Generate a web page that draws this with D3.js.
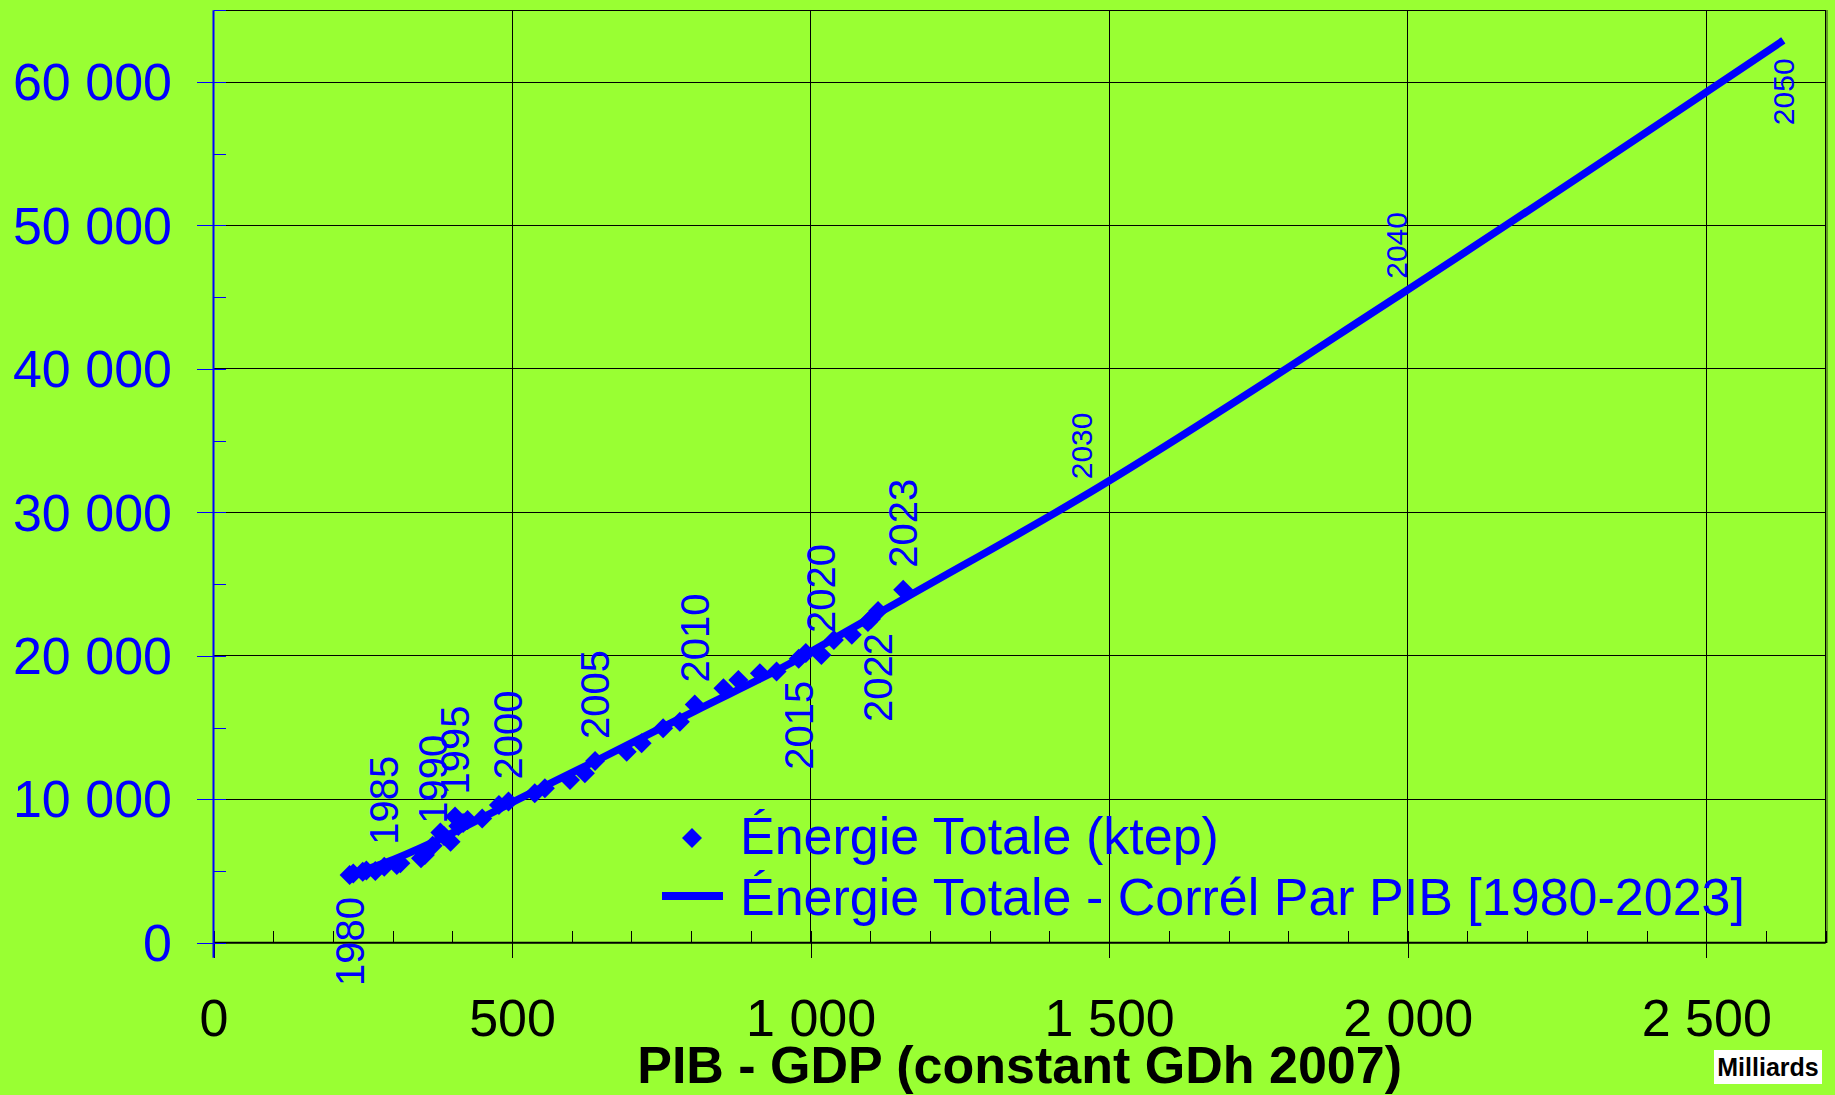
<!DOCTYPE html>
<html>
<head>
<meta charset="utf-8">
<script src="https://cdn.jsdelivr.net/npm/d3@7"></script>
<style>
  html, body { margin: 0; padding: 0; background: #99FF33; }
  svg { display: block; }
  text { font-family: "Liberation Sans", Arial, sans-serif; }
</style>
</head>
<body>
<svg id="chart" width="1835" height="1095"></svg>
<script>
// Observed series: GDP (billions of constant 2007 dirhams) and total energy (ktep)
const years = [1980,1981,1982,1983,1984,1985,1986,1987,1988,1989,
               1990,1991,1992,1993,1994,1995,1996,1997,1998,1999,
               2000,2001,2002,2003,2004,2005,2006,2007,2008,2009,
               2010,2011,2012,2013,2014,2015,2016,2017,2018,2019,
               2020,2021,2022,2023];
const gdp = [228,234,250,256,271,286,313,307,347.5,354,
             367,380,386,397,410,404.5,425.5,418,450,478,
             494,538,555,597,622,639,692,717,753,781,
             806,854,879,915,943,980,992,1039,1069,1096,
             1018,1101,1113,1155];
const energy = [4720,4830,4950,5040,4990,5300,5540,5420,5890,6120,
                6760,7690,7440,7040,8140,8790,8560,8350,8660,9600,
                9850,10420,10770,11350,11810,12670,13320,13900,14950,15410,
                16610,17740,18320,18790,18900,19790,20200,21110,21460,22360,
                20060,22570,23130,24600];

// Correlation curve energy = f(GDP), fitted on 1980-2023 and projected to 2050
const fitYears  = [1980,1985,1990,1995,2000,2005,2010,2015,2020,2023,2030,2040,2050];
const fitGdp    = [228,286,367,404.5,494,639,806,980,1018,1155,1454,1982,2629];
const fitEnergy = [4720,5550,7000,7750,9650,12650,16150,19800,20700,23950,31050,45030,62900];

// Years that carry a data label
const labelsAbove = [1985,1990,1995,2000,2005,2010,2020,2023];
const labelsBelow = [1980,2015,2022];
const fitLabelsAbove = [2030,2040];
const fitLabelsBelow = [2050];

// Axis ticks
const xTicks = [0,500,1000,1500,2000,2500];
const yTicks = [0,10000,20000,30000,40000,50000,60000];
const xMax = 2700, yMax = 65000;

const seriesNames = ["Énergie Totale (ktep)", "Énergie Totale - Corrél Par PIB [1980-2023]"];
const xTitle = "PIB - GDP (constant GDh 2007)";
const unitNote = "Milliards";

const BLUE = "#0000FF";
const svg = d3.select("#chart");

const x = d3.scaleLinear().domain([0, xMax]).range([213.5, 1825.7]);
const y = d3.scaleLinear().domain([0, yMax]).range([942.7, 10.3]);

const fr = d3.formatLocale({decimal: ",", thousands: " ", grouping: [3], currency: ["", " €"]});
const fmt = fr.format(",");

// Gridlines
const grid = svg.append("g").attr("shape-rendering", "crispEdges");
grid.selectAll("line.h").data(yTicks.filter(d => d > 0)).join("line")
  .attr("class", "h")
  .attr("x1", x(0)).attr("x2", x(xMax))
  .attr("y1", d => y(d)).attr("y2", d => y(d))
  .attr("stroke", "#000").attr("stroke-width", 1);
grid.selectAll("line.v").data(xTicks.filter(d => d > 0)).join("line")
  .attr("class", "v")
  .attr("x1", d => x(d)).attr("x2", d => x(d))
  .attr("y1", y(0)).attr("y2", y(yMax))
  .attr("stroke", "#000").attr("stroke-width", 1);
// Plot frame (top and right)
grid.append("line").attr("x1", x(0)).attr("x2", x(xMax)).attr("y1", y(yMax)).attr("y2", y(yMax))
  .attr("stroke", "#000").attr("stroke-width", 1);
grid.append("line").attr("x1", x(xMax)).attr("x2", x(xMax)).attr("y1", y(yMax)).attr("y2", y(0))
  .attr("stroke", "#000").attr("stroke-width", 1);
grid.append("line").attr("x1", x(xMax) + 1.5).attr("x2", x(xMax) + 1.5).attr("y1", y(yMax)).attr("y2", y(0))
  .attr("stroke", "#5f9e22").attr("stroke-width", 2);

// X axis: minor ticks inside every 100, major ticks crossing
const minorX = d3.range(0, xMax + 1, 100);
const xInner = svg.append("g").attr("transform", `translate(0,${y(0)})`)
  .call(d3.axisTop(x).tickValues(minorX).tickSize(12).tickFormat(""));
xInner.select(".domain").remove();
xInner.selectAll("line").attr("stroke", "#000").attr("shape-rendering", "crispEdges");

const xAxis = svg.append("g").attr("transform", `translate(0,${y(0)})`)
  .call(d3.axisBottom(x).tickValues(xTicks).tickSize(15.5).tickPadding(40.9).tickFormat(fmt));
xAxis.select(".domain").remove();
xAxis.selectAll("line").attr("stroke", "#000").attr("shape-rendering", "crispEdges");
xAxis.selectAll("text").attr("fill", "#000").style("font-size", "52px")
  .style("font-family", '"Liberation Sans", Arial, sans-serif');
svg.append("line").attr("x1", x(0)).attr("x2", x(xMax)).attr("y1", y(0)).attr("y2", y(0))
  .attr("stroke", "#000").attr("stroke-width", 2);

// Y axis: minor ticks inside every 5000, major ticks crossing
const minorY = d3.range(0, yMax + 1, 5000);
const yInner = svg.append("g").attr("transform", `translate(${x(0)},0)`)
  .call(d3.axisRight(y).tickValues(minorY).tickSize(12.5).tickFormat(""));
yInner.select(".domain").remove();
yInner.selectAll("line").attr("stroke", BLUE).attr("shape-rendering", "crispEdges");

const yAxis = svg.append("g").attr("transform", `translate(${x(0)},0)`)
  .call(d3.axisLeft(y).tickValues(yTicks).tickSize(16.5).tickPadding(25).tickFormat(fmt));
yAxis.select(".domain").remove();
yAxis.selectAll("line").attr("stroke", BLUE).attr("shape-rendering", "crispEdges");
yAxis.selectAll("text").attr("fill", BLUE).attr("dy", "0.34em").style("font-size", "52px")
  .style("font-family", '"Liberation Sans", Arial, sans-serif');
svg.append("line").attr("x1", x(0)).attr("x2", x(0)).attr("y1", y(yMax)).attr("y2", y(0) + 15)
  .attr("stroke", BLUE).attr("stroke-width", 2);

// Observed points (diamonds)
const pts = years.map((yr, i) => ({year: yr, gdp: gdp[i], energy: energy[i]}));
const diamond = "M0,-10L10,0L0,10L-10,0Z";
svg.append("g").selectAll("path").data(pts).join("path")
  .attr("d", diamond)
  .attr("transform", d => `translate(${x(d.gdp)},${y(d.energy)})`)
  .attr("fill", BLUE);

// Correlation curve
const fit = fitYears.map((yr, i) => ({year: yr, gdp: fitGdp[i], energy: fitEnergy[i]}));
svg.append("path").datum(fit)
  .attr("d", d3.line().curve(d3.curveMonotoneX).x(d => x(d.gdp)).y(d => y(d.energy)))
  .attr("fill", "none").attr("stroke", BLUE).attr("stroke-width", 7.5)
  .attr("stroke-linejoin", "round").attr("stroke-linecap", "butt");

// Year labels on the observed points and on the projection
function yearLabel(g, d, above, size, gap) {
  g.append("text")
    .attr("transform", `translate(${x(d.gdp)},${y(d.energy) + (above ? -gap : gap)}) rotate(-90)`)
    .attr("text-anchor", above ? "start" : "end")
    .attr("dy", "0.35em")
    .attr("fill", BLUE)
    .style("font-size", size + "px")
    .text(d.year);
}
const lab = svg.append("g");
pts.filter(d => labelsAbove.includes(d.year)).forEach(d => yearLabel(lab, d, true, 40, 22));
pts.filter(d => labelsBelow.includes(d.year)).forEach(d => yearLabel(lab, d, false, 40, 22));
fit.filter(d => fitLabelsAbove.includes(d.year)).forEach(d => yearLabel(lab, d, true, 30, 18));
fit.filter(d => fitLabelsBelow.includes(d.year)).forEach(d => yearLabel(lab, d, false, 30, 18));

// Legend
const leg = svg.append("g");
leg.append("path").attr("d", diamond).attr("transform", "translate(692,838)").attr("fill", BLUE);
leg.append("text").attr("x", 740).attr("y", 854).attr("fill", BLUE).style("font-size", "52px").text(seriesNames[0]);
leg.append("line").attr("x1", 662).attr("x2", 723).attr("y1", 896).attr("y2", 896)
  .attr("stroke", BLUE).attr("stroke-width", 8);
leg.append("text").attr("x", 740).attr("y", 915).attr("fill", BLUE).style("font-size", "52px").text(seriesNames[1]);

// Axis title and unit note
svg.append("text").attr("x", (x(0) + x(xMax)) / 2).attr("y", 1083)
  .attr("text-anchor", "middle").attr("fill", "#000")
  .style("font-size", "52px").style("font-weight", "bold").text(xTitle);
svg.append("rect").attr("x", 1714).attr("y", 1050).attr("width", 108).attr("height", 34).attr("fill", "#fff");
svg.append("text").attr("x", 1768).attr("y", 1076).attr("text-anchor", "middle").attr("fill", "#000")
  .style("font-size", "25px").style("font-weight", "bold").text(unitNote);
</script>
</body>
</html>
